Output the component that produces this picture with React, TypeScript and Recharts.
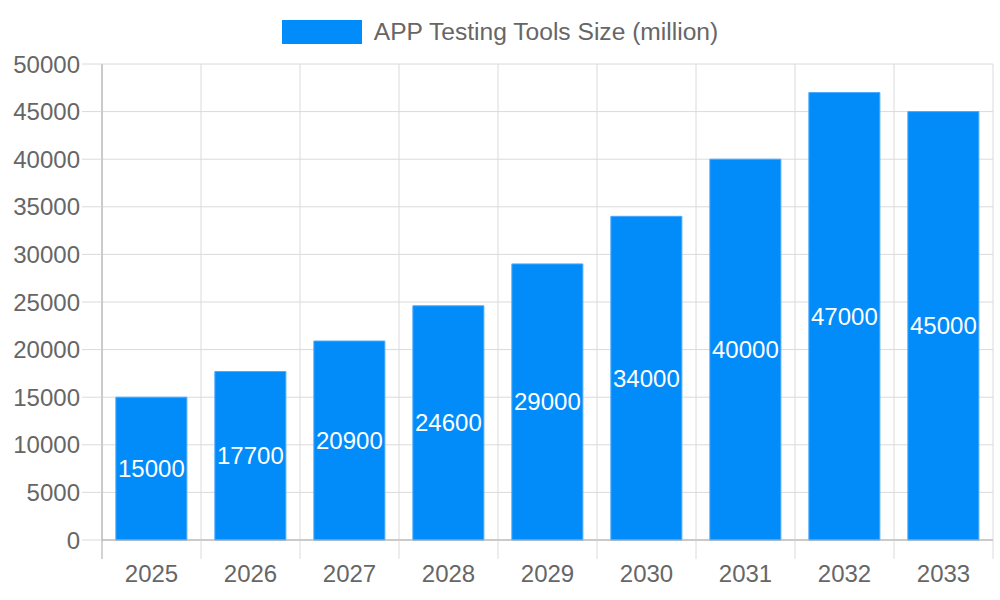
import { BarChart, Bar, XAxis, YAxis, CartesianGrid, Legend, LabelList } from 'recharts';

const years = ['2025', '2026', '2027', '2028', '2029', '2030', '2031', '2032', '2033'];
const sizes = [15000, 17700, 20900, 24600, 29000, 34000, 40000, 47000, 45000];
const yTicks = [0, 5000, 10000, 15000, 20000, 25000, 30000, 35000, 40000, 45000, 50000];
const seriesName = 'APP Testing Tools Size (million)';

const data = years.map((year, i) => ({ year, size: sizes[i] }));

const W = 1000;
const H = 600;
const M = { top: 64, right: 7, left: 0, bottom: 0 };
const Y_W = 102;
const X_H = 60;
const AXIS_Y = H - M.bottom - X_H;
const BAND = (W - M.left - M.right - Y_W) / years.length;

const BLUE = '#028cfa';
const GRID = '#dadada';
const AXIS = '#a8a8a8';
const TXT = '#666666';

const XTick = ({ x, payload, index }: any) => {
    const half = BAND / 2;
    return (
        <g>
            <line x1={x - half} x2={x - half} y1={AXIS_Y} y2={AXIS_Y + 19} stroke={index === 0 ? AXIS : GRID} />
            {index === years.length - 1 && (
                <line x1={x + half} x2={x + half} y1={AXIS_Y} y2={AXIS_Y + 19} stroke={GRID} />
            )}
            <text x={x} y={AXIS_Y + 25} dy="0.71em" textAnchor="middle" fill={TXT} fontSize={24}>{payload.value}</text>
        </g>
    );
};

const LegendBox = () => (
    <div style={{ display: 'flex', justifyContent: 'center', alignItems: 'center', gap: 12 }}>
        <div style={{ width: 80, height: 24, background: BLUE }} />
        <span style={{ fontSize: 24.6, lineHeight: '24px', color: TXT }}>{seriesName}</span>
    </div>
);

export default function App() {
    return (
        <div style={{ position: 'absolute', left: 0, top: 0, width: W, height: H, background: '#fff', fontFamily: '"Liberation Sans", Arial, sans-serif' }}>
            <BarChart width={W} height={H} data={data} margin={M} barCategoryGap="14%">
                <CartesianGrid
                    stroke={GRID}
                    verticalCoordinatesGenerator={({ offset }: any) =>
                        years.map((_, i) => offset.left + i * offset.width / years.length).concat(offset.left + offset.width)
                    }
                />
                <XAxis dataKey="year" height={X_H} axisLine={{ stroke: AXIS }} tickLine={false} tick={<XTick />} interval={0} />
                <YAxis
                    width={Y_W}
                    domain={[0, 50000]}
                    ticks={yTicks}
                    interval={0}
                    axisLine={{ stroke: AXIS }}
                    tickLine={{ stroke: GRID }}
                    tickSize={20}
                    tickMargin={2}
                    tick={{ fill: TXT, fontSize: 24 }}
                />
                <Legend verticalAlign="middle" align="center" content={<LegendBox />} wrapperStyle={{ top: 20, left: 0, width: W }} />
                <Bar dataKey="size" name={seriesName} fill={BLUE} stroke="#4aa9fc" strokeWidth={1} isAnimationActive={false}>
                    <LabelList dataKey="size" position="center" fill="#ffffff" fontSize={24} />
                </Bar>
            </BarChart>
        </div>
    );
}
